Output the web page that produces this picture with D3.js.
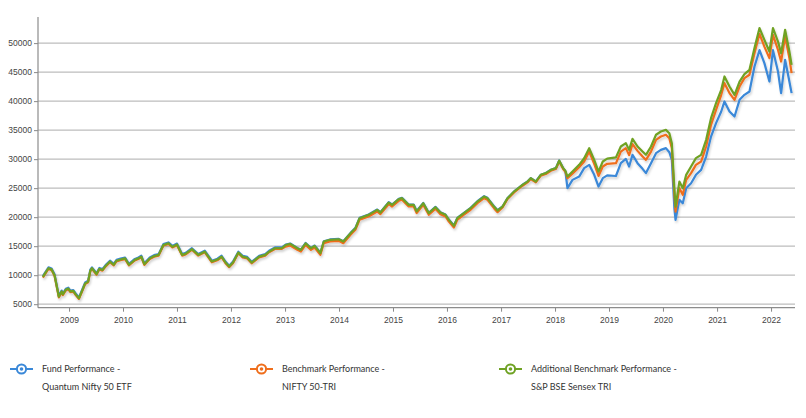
<!DOCTYPE html>
<html>
<head>
<meta charset="utf-8">
<script src="https://cdn.jsdelivr.net/npm/d3@7"></script>
<style>
  html, body { margin: 0; padding: 0; background: #fff; }
  svg { display: block; }
</style>
</head>
<body>
<svg id="chart" width="806" height="418"></svg>
<script>
// ---------- DATA ----------
const dates = [
"2008-07-08","2008-07-25","2008-08-15","2008-09-05","2008-09-25","2008-10-24","2008-11-12","2008-11-20","2008-12-10","2008-12-27",
"2009-01-10","2009-01-30","2009-02-15","2009-03-09","2009-03-30","2009-04-20","2009-05-10","2009-05-25","2009-06-05","2009-07-06",
"2009-07-25","2009-08-15","2009-09-05","2009-10-05","2009-10-30","2009-11-18","2009-12-15","2010-01-15","2010-02-10","2010-03-22",
"2010-04-15","2010-05-05","2010-05-25","2010-07-01","2010-07-30","2010-08-30","2010-10-01","2010-11-04","2010-12-01","2011-01-01",
"2011-02-05","2011-03-01","2011-04-12","2011-05-25","2011-07-08","2011-08-25","2011-10-01","2011-10-30","2011-11-25","2011-12-20",
"2012-01-15","2012-02-20","2012-03-20","2012-04-20","2012-05-20","2012-07-10","2012-08-20","2012-09-15","2012-10-25","2012-12-10",
"2013-01-05","2013-02-05","2013-03-25","2013-04-18","2013-05-20","2013-06-25","2013-07-20","2013-08-28","2013-09-20","2013-11-01",
"2013-12-30","2014-01-30","2014-03-20","2014-04-22","2014-05-20","2014-07-20","2014-09-16","2014-10-08","2014-12-03","2014-12-26",
"2015-02-09","2015-03-03","2015-04-17","2015-05-21","2015-06-10","2015-07-25","2015-08-31","2015-10-15","2015-11-18","2015-12-22",
"2016-01-14","2016-02-17","2016-03-11","2016-04-25","2016-06-09","2016-07-25","2016-09-08","2016-10-01","2016-11-14","2016-12-08",
"2017-01-11","2017-02-14","2017-03-30","2017-05-26","2017-06-29","2017-07-21","2017-08-24","2017-09-27","2017-10-31","2017-12-04",
"2018-01-07","2018-01-29","2018-02-25","2018-03-12","2018-03-26","2018-04-29","2018-06-13","2018-07-17","2018-08-20","2018-09-23",
"2018-10-22","2018-11-20","2018-12-20","2019-02-17","2019-03-22","2019-04-25","2019-05-17","2019-06-09","2019-07-13","2019-08-16",
"2019-09-08","2019-10-12","2019-11-15","2019-12-18","2020-01-21","2020-02-13","2020-03-01","2020-03-18","2020-03-26","2020-04-21",
"2020-05-14","2020-06-06","2020-07-09","2020-08-11","2020-09-15","2020-10-19","2020-11-21","2020-12-25","2021-01-29","2021-02-20",
"2021-03-26","2021-04-29","2021-06-02","2021-07-05","2021-08-08","2021-09-11","2021-10-15","2021-11-17","2021-12-21","2022-01-14",
"2022-02-17","2022-03-10","2022-04-06","2022-05-05","2022-05-20"
];

// Fund Performance - Quantum Nifty 50 ETF
const fundValues = [
9850,10550,11350,11150,10150,6450,7350,6850,7650,7850,
7350,7450,6850,6180,7450,8750,9050,10950,11350,10350,
11250,11050,11750,12500,11950,12650,12850,13050,11950,12800,
13050,13350,12050,13050,13450,13650,15350,15650,15050,15450,
13650,13850,14650,13650,14220,12500,12850,13350,12350,11650,
12350,14050,13350,13150,12320,13350,13650,14220,14800,14800,
15260,15460,14710,14420,15560,14710,15110,13860,15860,16160,
16260,15860,17300,18160,19890,20460,21320,20860,22580,22180,
23160,23340,22180,22180,21060,22460,20760,21780,20860,20460,
19590,18560,19890,20760,21610,22760,23610,23340,21890,21200,
21850,23300,24430,25590,26160,26740,26160,27320,27610,28170,
28470,29770,28470,27900,25000,26430,27000,28450,29020,27300,
25280,26720,27200,27100,29310,30050,28730,30750,29310,28330,
27600,29310,31030,31600,31900,31200,29880,21550,19530,23000,
22400,25000,25860,27300,28150,30450,33900,36210,38210,39950,
38210,37350,40220,41090,41660,45960,48790,46550,43380,48790,
45100,41380,47120,43380,41380
];

// Benchmark Performance - NIFTY 50-TRI
const benchmarkValues = [
9580,10280,11080,10880,9880,6180,7080,6580,7380,7580,
7080,7180,6580,5910,7180,8480,8780,10680,11080,10080,
10980,10780,11480,12230,11680,12380,12580,12780,11680,12530,
12780,13080,11780,12780,13180,13380,15080,15380,14780,15180,
13380,13580,14380,13380,13950,12230,12580,13080,12080,11380,
12080,13780,13080,12880,12050,13080,13380,13950,14530,14530,
14920,15120,14370,14080,15220,14370,14770,13520,15520,15820,
15920,15520,16960,17820,19550,20120,20980,20520,22240,21840,
22820,23000,21840,21840,20720,22120,20420,21440,20520,20120,
19250,18220,19550,20420,21270,22420,23270,23000,21550,20860,
21680,23130,24260,25420,25990,26570,25990,27150,27440,28000,
28300,29600,28300,27800,26700,27500,28600,29590,31310,29200,
27100,28730,29200,29300,31310,31900,30700,32600,31430,30450,
29880,31310,33330,33900,34200,33600,31900,23850,20970,25000,
23850,26430,27590,29020,29590,32180,35920,38500,41090,43100,
41380,40220,42520,43970,44540,48270,51600,49400,47410,51430,
48840,46830,51140,47410,44830
];

// Additional Benchmark Performance - S&P BSE Sensex TRI
const additionalValues = [
9700,10400,11200,11000,10000,6300,7200,6700,7500,7700,
7200,7300,6700,6030,7300,8600,8900,10800,11200,10200,
11100,10900,11600,12350,11800,12500,12700,12900,11800,12650,
12900,13200,11900,12900,13300,13500,15200,15500,14900,15300,
13500,13700,14500,13500,14070,12350,12700,13200,12200,11500,
12200,13900,13200,13000,12170,13200,13500,14070,14650,14650,
15200,15400,14650,14360,15500,14650,15050,13800,15800,16100,
16200,15800,17240,18100,19830,20400,21260,20800,22520,22120,
23100,23280,22120,22120,21000,22400,20700,21720,20800,20400,
19530,18500,19830,20700,21550,22700,23550,23280,21830,21140,
21830,23280,24410,25570,26140,26720,26140,27300,27590,28150,
28450,29750,28450,28000,27000,27860,29020,30150,31900,29880,
27860,29590,30100,30300,32180,32760,31600,33500,32180,31310,
30750,32180,34200,34760,35050,34480,32760,25000,21830,26140,
25000,27300,28730,30170,30750,33330,37070,39660,41950,44250,
42520,41090,43380,44650,45400,49140,52590,50550,48550,52590,
50270,48270,52290,48550,46260
];

const seriesNames = [
  ["Fund Performance -", "Quantum Nifty 50 ETF"],
  ["Benchmark Performance -", "NIFTY 50-TRI"],
  ["Additional Benchmark Performance -", "S&P BSE Sensex TRI"]
];
const seriesColors = ["#3a88d8", "#ef6e1c", "#6fa224"];
const yTicks = [5000, 10000, 15000, 20000, 25000, 30000, 35000, 40000, 45000, 50000];
const xTickYears = [2009, 2010, 2011, 2012, 2013, 2014, 2015, 2016, 2017, 2018, 2019, 2020, 2021, 2022];

// ---------- CHART ----------
const svg = d3.select("#chart");
const parse = d3.timeParse("%Y-%m-%d");
const dateObjs = dates.map(parse);
const allSeries = [fundValues, benchmarkValues, additionalValues];

const plot = { left: 38, right: 795, top: 17, bottom: 307.7 };

const x = d3.scaleTime()
  .domain([new Date(2008, 5, 5), new Date(2022, 5, 12)])
  .range([plot.left, plot.right]);
const y = d3.scaleLinear()
  .domain([4400, 54500])
  .range([plot.bottom, plot.top]);

const defs = svg.append("defs");
const f = defs.append("filter").attr("id", "shadow")
  .attr("x", "-5%").attr("y", "-5%").attr("width", "110%").attr("height", "120%");
f.append("feDropShadow").attr("dx", 1).attr("dy", 2).attr("stdDeviation", 1.2)
  .attr("flood-color", "#000").attr("flood-opacity", 0.18);

// gridlines
svg.append("g").selectAll("line").data(yTicks).join("line")
  .attr("x1", plot.left).attr("x2", plot.right)
  .attr("y1", d => y(d)).attr("y2", d => y(d))
  .attr("stroke", "#bdbdbd").attr("stroke-width", 1.2);

// y axis
const yAxis = d3.axisLeft(y).tickValues(yTicks).tickSize(4).tickPadding(2).tickFormat(d3.format("d"));
const gy = svg.append("g").attr("transform", `translate(${plot.left},0)`).call(yAxis);
gy.select(".domain").remove();
gy.selectAll(".tick line").attr("stroke", "#888");
gy.selectAll("text").attr("fill", "#444").style("font-family", "Arial, 'Liberation Sans', sans-serif").style("font-size", "8.5px");
svg.append("line").attr("x1", plot.left).attr("x2", plot.left)
  .attr("y1", plot.top).attr("y2", plot.bottom)
  .attr("stroke", "#8c8c8c").attr("stroke-width", 1.2);

// x axis
const xAxis = d3.axisBottom(x)
  .tickValues(xTickYears.map(yr => new Date(yr, 0, 1)))
  .tickSize(4).tickPadding(5)
  .tickFormat(d3.timeFormat("%Y"));
const gx = svg.append("g").attr("transform", `translate(0,${plot.bottom})`).call(xAxis);
gx.select(".domain").remove();
gx.selectAll(".tick line").attr("stroke", "#888");
gx.selectAll("text").attr("fill", "#444").style("font-family", "Arial, 'Liberation Sans', sans-serif").style("font-size", "8.5px");
svg.append("line").attr("x1", plot.left).attr("x2", plot.right)
  .attr("y1", plot.bottom).attr("y2", plot.bottom)
  .attr("stroke", "#8c8c8c").attr("stroke-width", 1.2);

// lines
const line = d3.line().x((d, i) => x(dateObjs[i])).y(d => y(d));
const gl = svg.append("g").attr("filter", "url(#shadow)");
allSeries.forEach((vals, k) => {
  gl.append("path").datum(vals)
    .attr("d", line)
    .attr("fill", "none")
    .attr("stroke", seriesColors[k])
    .attr("stroke-width", 2.2)
    .attr("stroke-linejoin", "round");
});

// legend
const legendX = [10, 250, 499];
const lg = svg.append("g").style("font-family", "Lato, 'Open Sans', sans-serif").style("font-size", "9px");
seriesNames.forEach((names, k) => {
  const g = lg.append("g").attr("transform", `translate(${legendX[k]},369)`);
  g.append("line").attr("x1", 0).attr("x2", 23).attr("y1", 0).attr("y2", 0)
    .attr("stroke", seriesColors[k]).attr("stroke-width", 2);
  g.append("circle").attr("cx", 11.5).attr("cy", 0).attr("r", 4.6)
    .attr("fill", "#fff").attr("stroke", seriesColors[k]).attr("stroke-width", 2);
  g.append("circle").attr("cx", 11.5).attr("cy", 0).attr("r", 1.8)
    .attr("fill", seriesColors[k]);
  g.append("text").attr("x", 32).attr("y", 3.2).attr("fill", "#333").text(names[0]);
  g.append("text").attr("x", 32).attr("y", 21.2).attr("fill", "#333").text(names[1]);
});
</script>
</body>
</html>
